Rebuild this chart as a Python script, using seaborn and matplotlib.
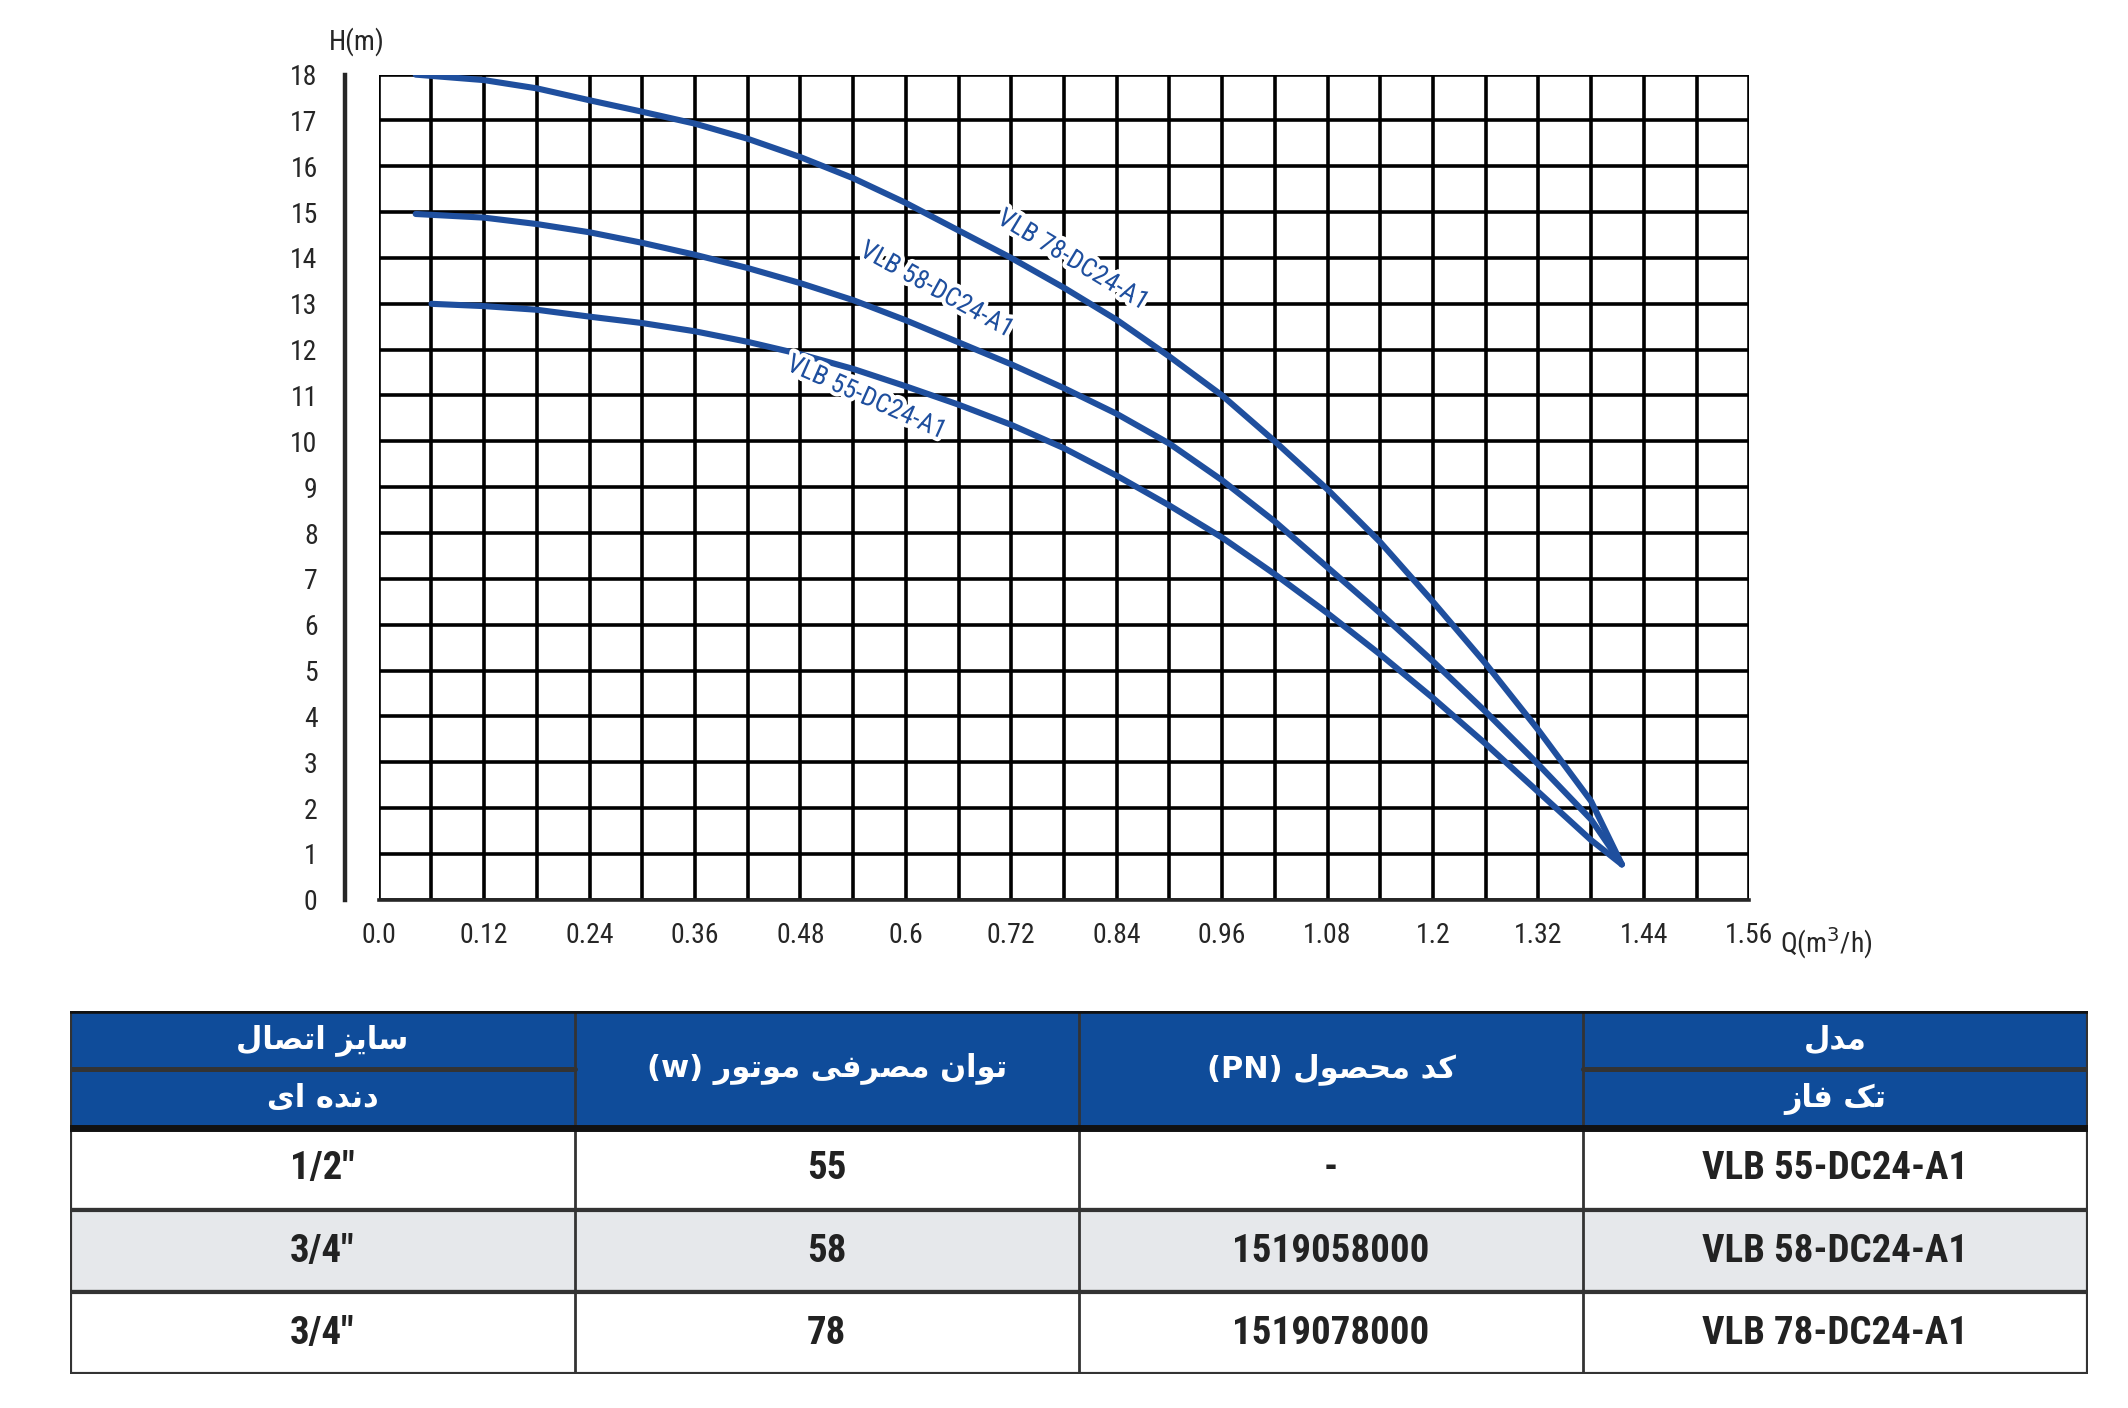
import numpy as np
import matplotlib
matplotlib.use("Agg")
import matplotlib.pyplot as plt
import matplotlib.patheffects as pe
import seaborn as sns
import re

# ---------------- data ----------------
q78 = [0.042, 0.12, 0.18, 0.24, 0.30, 0.36, 0.42, 0.48, 0.54, 0.60, 0.66, 0.72, 0.78, 0.84, 0.90, 0.96, 1.02, 1.08, 1.14, 1.20, 1.26, 1.32, 1.38, 1.415]
h78 = [18.0, 17.88, 17.7, 17.44, 17.19, 16.93, 16.6, 16.2, 15.74, 15.2, 14.6, 14.0, 13.35, 12.65, 11.85, 11.0, 10.0, 8.95, 7.8, 6.5, 5.15, 3.7, 2.15, 0.77]
q58 = [0.042, 0.12, 0.18, 0.24, 0.30, 0.36, 0.42, 0.48, 0.54, 0.60, 0.66, 0.72, 0.78, 0.84, 0.90, 0.96, 1.02, 1.08, 1.14, 1.20, 1.26, 1.32, 1.38, 1.415]
h58 = [14.96, 14.88, 14.74, 14.56, 14.33, 14.07, 13.78, 13.45, 13.08, 12.64, 12.16, 11.68, 11.16, 10.6, 9.95, 9.15, 8.25, 7.25, 6.25, 5.2, 4.1, 2.95, 1.75, 0.77]
q55 = [0.06, 0.12, 0.18, 0.24, 0.30, 0.36, 0.42, 0.48, 0.54, 0.60, 0.66, 0.72, 0.78, 0.84, 0.90, 0.96, 1.02, 1.08, 1.14, 1.20, 1.26, 1.32, 1.38, 1.415]
h55 = [13.0, 12.95, 12.87, 12.72, 12.58, 12.4, 12.17, 11.9, 11.58, 11.2, 10.8, 10.36, 9.85, 9.25, 8.6, 7.9, 7.1, 6.25, 5.35, 4.4, 3.4, 2.35, 1.3, 0.77]
models = ["VLB 55-DC24-A1", "VLB 58-DC24-A1", "VLB 78-DC24-A1"]
x_ticks = [0.0, 0.12, 0.24, 0.36, 0.48, 0.6, 0.72, 0.84, 0.96, 1.08, 1.2, 1.32, 1.44, 1.56]
x_tick_labels = ["0.0", "0.12", "0.24", "0.36", "0.48", "0.6", "0.72", "0.84", "0.96", "1.08", "1.2", "1.32", "1.44", "1.56"]
y_ticks = list(range(0, 19))

hdr_top = ["سایز اتصال", "توان مصرفی موتور (w)", "کد محصول (PN)", "مدل"]
hdr_bot = ["دنده ای", None, None, "تک فاز"]
col_size = ['1/2"', '3/4"', '3/4"']
col_power = ["55", "58", "78"]
col_pn = ["-", "1519058000", "1519078000"]

# --------- minimal Persian shaping (presentation forms) ---------
FORMS = {  # iso, fin, ini, med
    'ا': ('\uFE8D', '\uFE8E', None, None), 'د': ('\uFEA9', '\uFEAA', None, None),
    'ر': ('\uFEAD', '\uFEAE', None, None), 'ز': ('\uFEAF', '\uFEB0', None, None),
    'و': ('\uFEED', '\uFEEE', None, None),
    'ت': ('\uFE95', '\uFE96', '\uFE97', '\uFE98'), 'س': ('\uFEB1', '\uFEB2', '\uFEB3', '\uFEB4'),
    'ص': ('\uFEB9', '\uFEBA', '\uFEBB', '\uFEBC'), 'ل': ('\uFEDD', '\uFEDE', '\uFEDF', '\uFEE0'),
    'ن': ('\uFEE5', '\uFEE6', '\uFEE7', '\uFEE8'), 'ه': ('\uFEE9', '\uFEEA', '\uFEEB', '\uFEEC'),
    'م': ('\uFEE1', '\uFEE2', '\uFEE3', '\uFEE4'), 'ف': ('\uFED1', '\uFED2', '\uFED3', '\uFED4'),
    'ح': ('\uFEA1', '\uFEA2', '\uFEA3', '\uFEA4'), 'ک': ('\uFB8E', '\uFB8F', '\uFB90', '\uFB91'),
    'ی': ('\uFBFC', '\uFBFD', '\uFBFE', '\uFBFF'),
}
def joins_next(c):
    return c in FORMS and FORMS[c][2] is not None
def shape(s):
    out = []
    for i, c in enumerate(s):
        if c not in FORMS:
            out.append(c); continue
        prev = s[i-1] if i > 0 else ''
        nxt = s[i+1] if i + 1 < len(s) else ''
        jp = joins_next(prev)
        jn = joins_next(c) and nxt in FORMS
        f = FORMS[c]
        if jp and jn: g = f[3]
        elif jp: g = f[1]
        elif jn: g = f[2]
        else: g = f[0]
        out.append(g)
    tokens = re.findall(r'\([A-Za-z]+\)|[A-Za-z]+|.', ''.join(out))
    return ''.join(reversed(tokens))

# ---------------- figure ----------------
sns.set_style("white")
plt.rcParams['font.family'] = ['Roboto Condensed', 'Liberation Sans Narrow', 'DejaVu Sans']
fig = plt.figure(figsize=(10.64, 7.04), dpi=200)
ax = fig.add_axes([0.178, 0.361, 0.644, 0.586])
blue = "#1f4f9e"

for q, h in [(q78, h78), (q58, h58), (q55, h55)]:
    sns.lineplot(x=q, y=h, ax=ax, color=blue, lw=2.2, sort=False, zorder=5)

ax.set_xlim(0, 1.56)
ax.set_ylim(0, 18)
for xv in np.arange(0, 1.5601, 0.06):
    ax.axvline(xv, color="black", lw=1.3, zorder=1)
for yv in y_ticks:
    ax.axhline(yv, color="black", lw=1.3, zorder=1)

ax.spines['left'].set_position(('outward', 12))
ax.spines['left'].set_linewidth(1.6)
ax.spines['bottom'].set_linewidth(1.3)
for s in ['top', 'right']:
    ax.spines[s].set_visible(False)
ax.set_yticks(y_ticks)
ax.set_yticklabels([str(v) for v in y_ticks], fontsize=10)
ax.set_xticks(x_ticks)
ax.set_xticklabels(x_tick_labels, fontsize=10)
ax.tick_params(axis='y', direction='in', length=8, width=1.3, pad=10)
ax.tick_params(axis='x', direction='out', length=4, width=1.3, pad=4)
ax.text(-0.025, 18.4, "H(m)", fontsize=10, ha='center', va='bottom', clip_on=False)
ax.text(1.595, -0.55, "Q(m$^3$/h)", fontsize=10, ha='left', va='top', clip_on=False)

lbl = [(models[2], 0.79, 13.95, -31), (models[1], 0.635, 13.3, -29), (models[0], 0.555, 10.95, -24)]
for t, x, y, r in lbl:
    ax.text(x, y, t, color=blue, fontsize=9.5, rotation=r, ha='center', va='center', zorder=6,
            rotation_mode='anchor',
            path_effects=[pe.withStroke(linewidth=3, foreground='white')])

# ---------------- table ----------------
tax = fig.add_axes([0.033, 0.024, 0.948, 0.258])
tax.set_xlim(0, 4)
tax.set_ylim(0, 4.35)
tax.axis('off')
hb = "#0f4c9a"
edge = "#333333"
row_h = 0.983
hdr_y0 = 3 * row_h
hdr_h = 4.35 - hdr_y0
tax.add_patch(plt.Rectangle((0, hdr_y0), 4, hdr_h, facecolor=hb, edgecolor=edge, lw=1.5))
for i, bg in enumerate(["white", "#e6e8eb", "white"]):
    y0 = (2 - i) * row_h
    tax.add_patch(plt.Rectangle((0, y0), 4, row_h, facecolor=bg, edgecolor=edge, lw=1.5))
for c in range(1, 4):
    tax.plot([c, c], [0, 4.35], color=edge, lw=1.0)
for c in [0, 3]:
    tax.plot([c, c + 1], [hdr_y0 + hdr_h / 2] * 2, color=edge, lw=1.8)
tax.plot([0, 4], [hdr_y0, hdr_y0], color="#111111", lw=2.5)
tax.plot([0, 4], [4.35, 4.35], color="#111111", lw=2.0)

hf = ['DejaVu Sans']
for c in range(4):
    if hdr_bot[c] is None:
        tax.text(c + 0.5, hdr_y0 + hdr_h / 2, shape(hdr_top[c]), color='white', fontsize=11,
                 ha='center', va='center', family=hf, fontweight='bold')
    else:
        tax.text(c + 0.5, hdr_y0 + hdr_h * 0.75, shape(hdr_top[c]), color='white', fontsize=11,
                 ha='center', va='center', family=hf, fontweight='bold')
        tax.text(c + 0.5, hdr_y0 + hdr_h * 0.25, shape(hdr_bot[c]), color='white', fontsize=11,
                 ha='center', va='center', family=hf, fontweight='bold')
for i in range(3):
    yc = (2 - i) * row_h + row_h / 2
    for c, val in enumerate([col_size[i], col_power[i], col_pn[i], models[i]]):
        tax.text(c + 0.5, yc, val, fontsize=14, fontweight='bold', ha='center', va='center', color='#222222')

fig.savefig("out.png", dpi=200, facecolor='white')
